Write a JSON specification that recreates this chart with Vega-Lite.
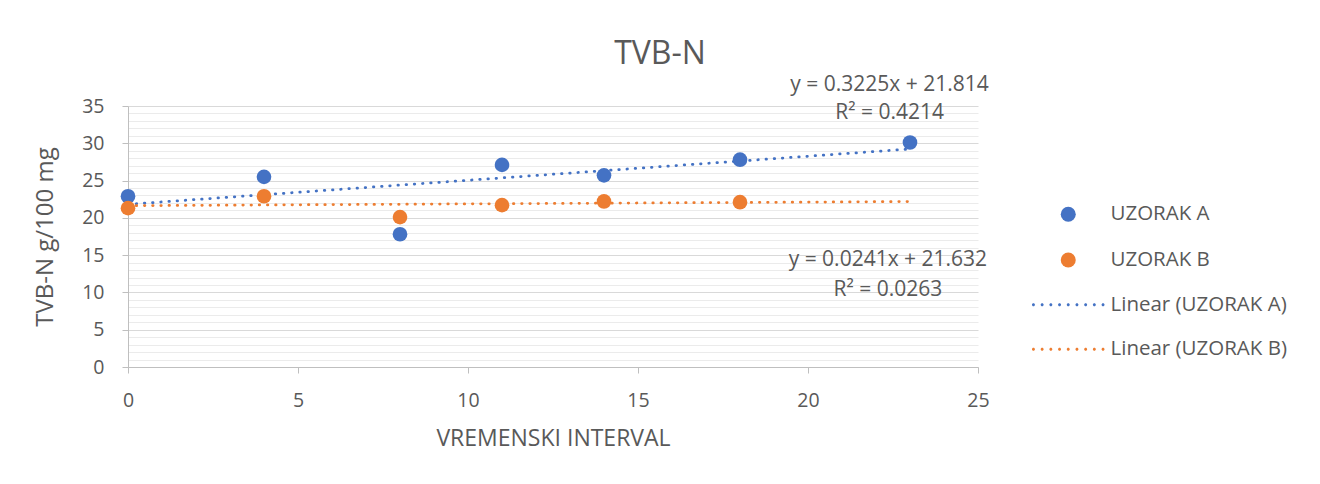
{
  "$schema": "https://vega.github.io/schema/vega-lite/v6.json",
  "autosize": "none",
  "width": 850,
  "height": 261,
  "padding": {"left": 128, "top": 106, "right": 342, "bottom": 117},
  "background": "white",
  "config": {
    "font": "Open Sans",
    "view": {"stroke": null},
    "text": {"font": "Open Sans"}
  },
  "title": {
    "text": "TVB-N",
    "fontSize": 32,
    "fontWeight": "normal",
    "color": "#595959",
    "font": "Open Sans",
    "anchor": "middle",
    "frame": "group",
    "dx": 107,
    "offset": 3
  },
  "datasets": {
    "points": [
      {"t": 0, "v": 22.9, "series": "UZORAK A"},
      {"t": 4, "v": 25.5, "series": "UZORAK A"},
      {"t": 8, "v": 17.8, "series": "UZORAK A"},
      {"t": 11, "v": 27.1, "series": "UZORAK A"},
      {"t": 14, "v": 25.7, "series": "UZORAK A"},
      {"t": 18, "v": 27.8, "series": "UZORAK A"},
      {"t": 23, "v": 30.1, "series": "UZORAK A"},
      {"t": 0, "v": 21.3, "series": "UZORAK B"},
      {"t": 4, "v": 22.9, "series": "UZORAK B"},
      {"t": 8, "v": 20.1, "series": "UZORAK B"},
      {"t": 11, "v": 21.7, "series": "UZORAK B"},
      {"t": 14, "v": 22.2, "series": "UZORAK B"},
      {"t": 18, "v": 22.1, "series": "UZORAK B"}
    ],
    "trend": [
      {"t": 0, "v": 21.814, "series": "Linear (UZORAK A)"},
      {"t": 23, "v": 29.2315, "series": "Linear (UZORAK A)"},
      {"t": 0, "v": 21.632, "series": "Linear (UZORAK B)"},
      {"t": 23, "v": 22.1863, "series": "Linear (UZORAK B)"}
    ],
    "notes": [
      {"t": 22.4, "v": 37.8, "label": "y = 0.3225x + 21.814"},
      {"t": 22.4, "v": 34.05, "label": "R² = 0.4214"},
      {"t": 22.35, "v": 14.35, "label": "y = 0.0241x + 21.632"},
      {"t": 22.35, "v": 10.35, "label": "R² = 0.0263"}
    ]
  },
  "encoding": {
    "x": {
      "field": "t", "type": "quantitative",
      "scale": {"domain": [0, 25], "nice": false, "zero": false},
      "axis": {
        "values": [0, 5, 10, 15, 20, 25],
        "grid": false,
        "title": "VREMENSKI INTERVAL",
        "titleFont": "Open Sans", "titleFontSize": 23, "titleFontWeight": "normal", "titleColor": "#595959",
        "titlePadding": 18,
        "labelFont": "Open Sans", "labelFontSize": 19.5, "labelColor": "#595959", "labelPadding": 18,
        "domainColor": "#bfbfbf", "tickColor": "#bfbfbf", "tickSize": 6, "labelFlush": false
      }
    },
    "y": {
      "field": "v", "type": "quantitative",
      "scale": {"domain": [0, 35], "nice": false, "zero": false},
      "axis": {
        "values": [0,1,2,3,4,5,6,7,8,9,10,11,12,13,14,15,16,17,18,19,20,21,22,23,24,25,26,27,28,29,30,31,32,33,34,35],
        "grid": true,
        "gridColor": {"condition": {"test": "datum.value % 5 === 0", "value": "#d9d9d9"}, "value": "#ebebeb"},
        "gridWidth": 1,
        "tickColor": {"condition": {"test": "datum.value % 5 === 0", "value": "#bfbfbf"}, "value": "transparent"},
        "tickSize": 6,
        "labelExpr": "datum.value % 5 === 0 ? datum.label : ''",
        "title": "TVB-N g/100 mg",
        "titleFont": "Open Sans", "titleFontSize": 24, "titleFontWeight": "normal", "titleColor": "#595959",
        "titlePadding": 24,
        "labelFont": "Open Sans", "labelFontSize": 19.5, "labelColor": "#595959", "labelPadding": 18,
        "domainColor": "#bfbfbf", "labelFlush": false
      }
    }
  },
  "layer": [
    {
      "data": {"name": "trend"},
      "transform": [{"filter": "datum.series === 'Linear (UZORAK A)'"}],
      "mark": {"type": "line", "color": "#4472C4", "strokeWidth": 2.75, "strokeDash": [0.5, 7.7], "strokeCap": "round"}
    },
    {
      "data": {"name": "trend"},
      "transform": [{"filter": "datum.series === 'Linear (UZORAK B)'"}],
      "mark": {"type": "line", "color": "#ED7D31", "strokeWidth": 2.75, "strokeDash": [0.5, 7.7], "strokeCap": "round"}
    },
    {
      "data": {"name": "points"},
      "mark": {"type": "point", "filled": true, "size": 215, "opacity": 1, "strokeWidth": 0},
      "encoding": {
        "color": {
          "field": "series", "type": "nominal",
          "scale": {
            "domain": ["UZORAK A", "UZORAK B", "Linear (UZORAK A)", "Linear (UZORAK B)"],
            "range": ["#4472C4", "#ED7D31", "#4472C4", "#ED7D31"]
          },
          "legend": {
            "title": null,
            "orient": "none",
            "legendX": 930,
            "legendY": 98,
            "padding": 0,
            "symbolSize": 225,
            "symbolOpacity": 1,
            "labelFont": "Open Sans",
            "labelFontSize": 20.5,
            "labelColor": "#595959",
            "labelOffset": 32,
            "rowPadding": 23.7,
            "labelLimit": 300
          }
        },
        "shape": {
          "field": "series", "type": "nominal",
          "scale": {
            "domain": ["UZORAK A", "UZORAK B", "Linear (UZORAK A)", "Linear (UZORAK B)"],
            "range": [
              "circle",
              "circle",
              "M-4.84,0a0.2,0.2 0 1,0 0.4,0a0.2,0.2 0 1,0 -0.4,0M-3.68,0a0.2,0.2 0 1,0 0.4,0a0.2,0.2 0 1,0 -0.4,0M-2.52,0a0.2,0.2 0 1,0 0.4,0a0.2,0.2 0 1,0 -0.4,0M-1.36,0a0.2,0.2 0 1,0 0.4,0a0.2,0.2 0 1,0 -0.4,0M-0.2,0a0.2,0.2 0 1,0 0.4,0a0.2,0.2 0 1,0 -0.4,0M0.96,0a0.2,0.2 0 1,0 0.4,0a0.2,0.2 0 1,0 -0.4,0M2.12,0a0.2,0.2 0 1,0 0.4,0a0.2,0.2 0 1,0 -0.4,0M3.28,0a0.2,0.2 0 1,0 0.4,0a0.2,0.2 0 1,0 -0.4,0M4.44,0a0.2,0.2 0 1,0 0.4,0a0.2,0.2 0 1,0 -0.4,0Z",
              "M-4.84,0a0.2,0.2 0 1,0 0.4,0a0.2,0.2 0 1,0 -0.4,0M-3.68,0a0.2,0.2 0 1,0 0.4,0a0.2,0.2 0 1,0 -0.4,0M-2.52,0a0.2,0.2 0 1,0 0.4,0a0.2,0.2 0 1,0 -0.4,0M-1.36,0a0.2,0.2 0 1,0 0.4,0a0.2,0.2 0 1,0 -0.4,0M-0.2,0a0.2,0.2 0 1,0 0.4,0a0.2,0.2 0 1,0 -0.4,0M0.96,0a0.2,0.2 0 1,0 0.4,0a0.2,0.2 0 1,0 -0.4,0M2.12,0a0.2,0.2 0 1,0 0.4,0a0.2,0.2 0 1,0 -0.4,0M3.28,0a0.2,0.2 0 1,0 0.4,0a0.2,0.2 0 1,0 -0.4,0M4.44,0a0.2,0.2 0 1,0 0.4,0a0.2,0.2 0 1,0 -0.4,0Z"
            ]
          },
          "legend": {
            "title": null,
            "orient": "none",
            "legendX": 930,
            "legendY": 98,
            "padding": 0,
            "symbolSize": 225,
            "symbolOpacity": 1,
            "labelFont": "Open Sans",
            "labelFontSize": 20.5,
            "labelColor": "#595959",
            "labelOffset": 32,
            "rowPadding": 23.7,
            "labelLimit": 300
          }
        }
      }
    },
    {
      "data": {"name": "notes"},
      "mark": {"type": "text", "font": "Open Sans", "fontSize": 21, "color": "#595959", "align": "center", "baseline": "middle"},
      "encoding": {
        "text": {"field": "label"}
      }
    }
  ]
}
